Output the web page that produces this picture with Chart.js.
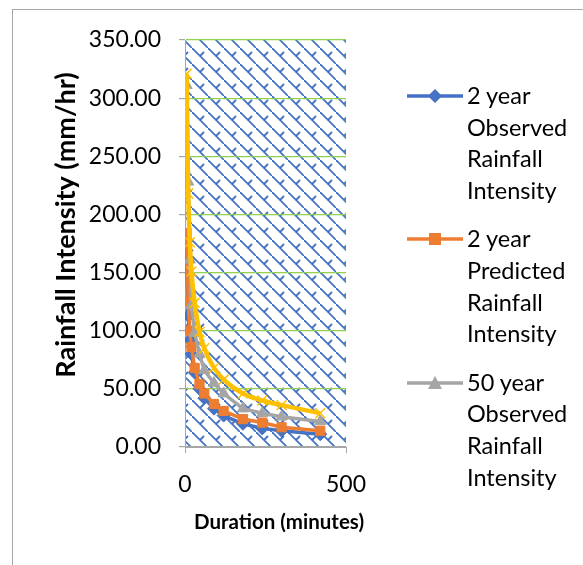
<!DOCTYPE html>
<html><head><meta charset="utf-8">
<script src="https://cdn.jsdelivr.net/npm/chart.js@4"></script>
<style>
html,body{margin:0;padding:0;background:#fff;}
#wrap{position:relative;width:583px;height:565px;overflow:hidden;font-family:Lato,"Open Sans",sans-serif;}
#frame{position:absolute;left:12px;top:9px;width:600px;height:600px;border-left:1px solid #a6a6a6;border-top:1px solid #a6a6a6;}
#c{position:absolute;left:0;top:0;}
#legend{position:absolute;left:407px;top:80px;}
.item{position:relative;height:143.3px;}
.sym{position:absolute;left:0;top:8px;}
.txt{position:absolute;left:60px;top:0;width:120px;font-size:23.5px;line-height:31.7px;color:#000;}
</style></head>
<body>
<div id="wrap">
<div id="frame"></div>
<canvas id="c" width="583" height="565"></canvas>
<div id="legend"></div>
</div>
<script>
// ---- data ----
const durations = [5, 10, 15, 20, 30, 45, 60, 90, 120, 180, 240, 300, 420];
const observed2yr  = [169, 113, 92, 80, 64, 50, 42, 33, 27, 20, 16, 14, 11];
const predicted2yr = [184, 125, 100, 86, 68, 54, 46, 37, 31, 24, 21, 17, 14];
const observed50yr = [311, 228, 161, 122, 98, 80, 66, 55, 46, 33, 29, 26, 22];
const predicted50yr= [321, 218, 176, 151, 124, 99, 85, 68, 58, 46, 40, 36, 29];
const seriesNames = ["2 year Observed Rainfall Intensity", "2 year Predicted Rainfall Intensity",
                     "50 year Observed Rainfall Intensity", "50 year Predicted Rainfall Intensity"];
const xTitle = "Duration (minutes)";
const yTitle = "Rainfall Intensity (mm/hr)";
const xMin = 0, xMax = 500, xStep = 500;
const yMin = 0, yMax = 350, yStep = 50;

const colors = ['#4472C4', '#ED7D31', '#A5A5A5', '#FFC000'];
const styles = ['rectRot', 'rect', 'triangle', 'crossRot'];
const seriesValues = [observed2yr, predicted2yr, observed50yr, predicted50yr];

function pts(vals){ return durations.map((d,i)=>({x:d, y:vals[i]})); }

// hatch pattern
const tile = document.createElement('canvas');
tile.width = 16; tile.height = 16;
(function(){
  const t = tile.getContext('2d');
  t.fillStyle = '#fff'; t.fillRect(0,0,16,16);
  t.strokeStyle = '#4472C4'; t.lineWidth = 1.8;
  t.beginPath(); t.moveTo(-2,-2); t.lineTo(18,18); t.stroke();
  t.beginPath(); t.moveTo(8,8); t.lineTo(12,4); t.stroke();
})();

const bgPlugin = {
  id:'bg',
  beforeDraw(chart){
    const {ctx, chartArea:a} = chart;
    ctx.save();
    ctx.fillStyle = ctx.createPattern(tile, 'repeat');
    ctx.fillRect(a.left, a.top, a.right-a.left, a.bottom-a.top);
    ctx.restore();
  }
};
const titlePlugin = {
  id:'titles',
  afterDraw(chart){
    const ctx = chart.ctx;
    ctx.save();
    ctx.fillStyle = '#000';
    ctx.textAlign = 'center'; ctx.textBaseline = 'middle';
    ctx.font = 'bold 20.5px Lato';
    ctx.fillText(xTitle, 279, 522);
    ctx.font = 'bold 27px Lato';
    ctx.translate(66, 225); ctx.rotate(-Math.PI/2);
    ctx.fillText(yTitle, 0, 0);
    ctx.restore();
  }
};

const datasets = seriesValues.map((v,i)=>({
  label: seriesNames[i],
  data: pts(v),
  borderColor: colors[i],
  backgroundColor: colors[i],
  pointStyle: styles[i],
  pointRadius: i===3 ? 7 : 6.5,
  pointBorderWidth: i===3 ? 1.5 : 1,
  borderWidth: i===3 ? 4.5 : 3.5,
  tension: i===3 ? 0.4 : 0,
  cubicInterpolationMode: i===3 ? 'monotone' : 'default',
  order: 3 - i,
  fill: false
}));

const tickFont = {family:'Lato', size:23};
new Chart(document.getElementById('c'), {
  type:'line',
  data:{datasets},
  options:{
    responsive:false, animation:false, devicePixelRatio:1,
    layout:{padding:{left:0, top:40, right:237, bottom:0}},
    plugins:{legend:{display:false}, tooltip:{enabled:false}},
    scales:{
      x:{type:'linear', min:xMin, max:xMax,
         ticks:{stepSize:xStep, font:tickFont, color:'#000', padding:18, maxRotation:0},
         grid:{drawOnChartArea:false, tickLength:6, color:'#a6a6a6'},
         border:{color:'#a6a6a6', width:1},
         afterFit(s){ s.height = 118; }},
      y:{min:yMin, max:yMax,
         ticks:{stepSize:yStep, font:tickFont, color:'#000', padding:18, callback:v=>Number(v).toFixed(2)},
         grid:{color:c=> (c.tick && c.tick.value===0) ? '#a6a6a6' : '#92D050', tickColor:'#a6a6a6', tickLength:6, lineWidth:1.2},
         border:{color:'#a6a6a6', width:1},
         afterFit(s){ s.width = 185; }}
    }
  },
  plugins:[bgPlugin, titlePlugin]
});

// legend (first three series are visible in the reference)
function markerSvg(i){
  const c = colors[i];
  let m = '';
  if (styles[i]==='rectRot') m = `<polygon points="28,1 35,8 28,15 21,8" fill="${c}"/>`;
  else if (styles[i]==='rect') m = `<rect x="22" y="2" width="12" height="12" fill="${c}"/>`;
  else if (styles[i]==='triangle') m = `<polygon points="28,1 35,14 21,14" fill="${c}"/>`;
  return `<svg width="56" height="16" viewBox="0 0 56 16"><line x1="0" y1="8" x2="56" y2="8" stroke="${c}" stroke-width="3.5"/>${m}</svg>`;
}
const lg = document.getElementById('legend');
for (let i=0;i<3;i++){
  const d = document.createElement('div'); d.className='item';
  d.innerHTML = `<div class="sym">${markerSvg(i)}</div><div class="txt">${seriesNames[i]}</div>`;
  lg.appendChild(d);
}
</script>
</body></html>
